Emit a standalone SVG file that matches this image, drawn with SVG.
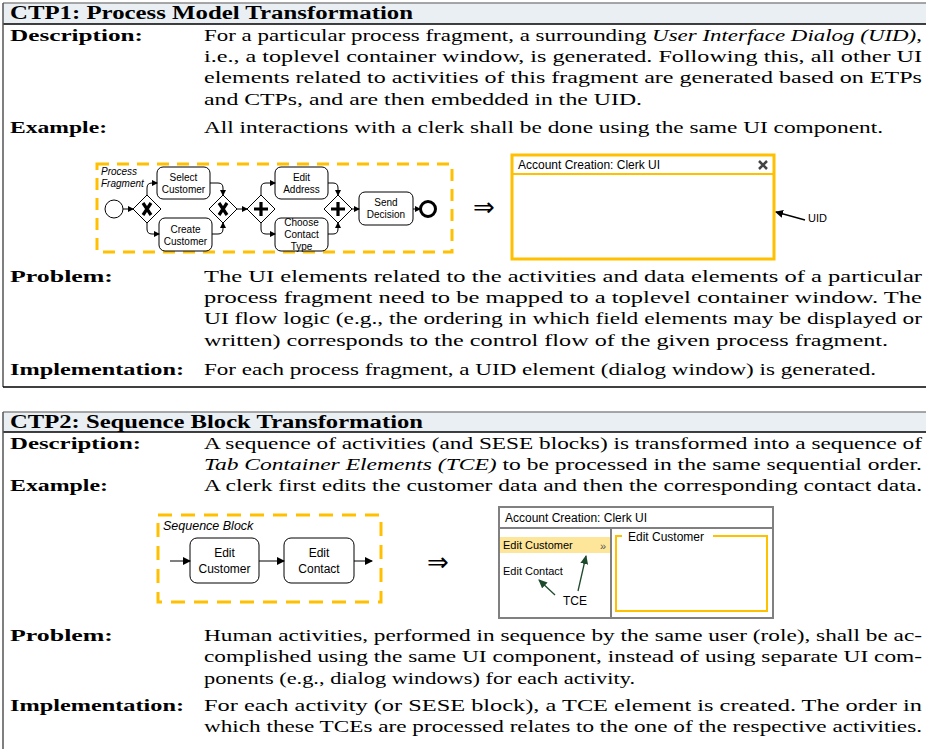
<svg xmlns="http://www.w3.org/2000/svg" width="926" height="749" viewBox="0 0 926 749">
<style>
.hd{font-family:'Liberation Serif',serif;font-weight:bold;font-size:18px;fill:#000}
.lb{font-family:'Liberation Serif',serif;font-weight:bold;font-size:17.5px;fill:#000}
.tx{font-family:'Liberation Serif',serif;font-size:17.5px;fill:#000}
.it{font-style:italic}
.sm{font-family:"Liberation Sans",Arial,sans-serif;font-size:10px;fill:#000;text-anchor:middle}
.ui{font-family:"Liberation Sans",Arial,sans-serif;font-size:12px;fill:#000}
.act{fill:#fff;stroke:#000;stroke-width:1}
.gw{fill:#fff;stroke:#000;stroke-width:1}
.mk{stroke:#000;stroke-width:3.2;fill:none}
.fl{stroke:#000;stroke-width:1;fill:none}
.dash{fill:none;stroke:#ffc000;stroke-width:3;stroke-dasharray:12 8}
.hbg{fill:#e9eff3}
.arr{font-family:"DejaVu Sans",sans-serif;font-size:26px;fill:#000}
</style>
<defs>
<marker id="ah" markerWidth="6" markerHeight="6" refX="5" refY="3" orient="auto" markerUnits="userSpaceOnUse">
<path d="M0,0 L6,3 L0,6 z" fill="#000"/>
</marker>
<marker id="ah2" markerWidth="8" markerHeight="8" refX="7" refY="4" orient="auto" markerUnits="userSpaceOnUse">
<path d="M0,0 L8,4 L0,8 z" fill="#000"/>
</marker>
<marker id="ahg" markerWidth="9" markerHeight="8" refX="8" refY="4" orient="auto" markerUnits="userSpaceOnUse">
<path d="M0,0 L9,4 L0,8 z" fill="#1e4a2c"/>
</marker>
</defs>

<!-- ================= TABLE 1 ================= -->
<g id="table1">
<rect class="hbg" x="3" y="3" width="923" height="21"/>
<line x1="3" y1="3" x2="926" y2="3" stroke="#8a8a8a" stroke-width="1.5"/>
<line x1="3" y1="24" x2="926" y2="24" stroke="#000" stroke-width="1.5"/>
<line x1="3" y1="3" x2="3" y2="387" stroke="#555" stroke-width="1.5"/>
<line x1="3" y1="387" x2="926" y2="387" stroke="#000" stroke-width="1.5"/>
<text class="hd" x="10" y="19" textLength="403" lengthAdjust="spacingAndGlyphs">CTP1: Process Model Transformation</text>
<text class="lb" x="10" y="41" textLength="133" lengthAdjust="spacingAndGlyphs">Description:</text>
<text class="tx" x="204" y="41" textLength="718" lengthAdjust="spacingAndGlyphs">For a particular process fragment, a surrounding <tspan class="it">User Interface Dialog (UID)</tspan>,</text>
<text class="tx" x="204" y="62" textLength="718" lengthAdjust="spacingAndGlyphs">i.e., a toplevel container window, is generated. Following this, all other UI</text>
<text class="tx" x="204" y="83" textLength="718" lengthAdjust="spacingAndGlyphs">elements related to activities of this fragment are generated based on ETPs</text>
<text class="tx" x="204" y="105" textLength="438" lengthAdjust="spacingAndGlyphs">and CTPs, and are then embedded in the UID.</text>
<text class="lb" x="10" y="133" textLength="97" lengthAdjust="spacingAndGlyphs">Example:</text>
<text class="tx" x="204" y="133" textLength="679" lengthAdjust="spacingAndGlyphs">All interactions with a clerk shall be done using the same UI component.</text>
<text class="lb" x="10" y="282" textLength="103" lengthAdjust="spacingAndGlyphs">Problem:</text>
<text class="tx" x="204" y="282" textLength="718" lengthAdjust="spacingAndGlyphs">The UI elements related to the activities and data elements of a particular</text>
<text class="tx" x="204" y="303" textLength="718" lengthAdjust="spacingAndGlyphs">process fragment need to be mapped to a toplevel container window. The</text>
<text class="tx" x="204" y="324" textLength="718" lengthAdjust="spacingAndGlyphs">UI flow logic (e.g., the ordering in which field elements may be displayed or</text>
<text class="tx" x="204" y="346" textLength="684" lengthAdjust="spacingAndGlyphs">written) corresponds to the control flow of the given process fragment.</text>
<text class="lb" x="10" y="375" textLength="174" lengthAdjust="spacingAndGlyphs">Implementation:</text>
<text class="tx" x="204" y="375" textLength="672" lengthAdjust="spacingAndGlyphs">For each process fragment, a UID element (dialog window) is generated.</text>
</g>

<!-- Process fragment diagram -->
<g id="fragment">
<rect class="dash" x="97" y="164" width="355" height="88"/>
<text class="sm" x="101" y="175" style="text-anchor:start;font-style:italic">Process</text>
<text class="sm" x="101" y="187" style="text-anchor:start;font-style:italic">Fragment</text>
</g>
<g id="start"><circle cx="114" cy="209" r="9" fill="#fff" stroke="#000" stroke-width="1"/></g>
<g id="xor1">
<path class="gw" d="M147,195 L161,209 L147,223 L133,209 Z"/>
<path class="mk" d="M143,203 L151,215 M151,203 L143,215"/>
</g>
<g id="selectCustomer">
<rect class="act" x="157" y="167" width="53" height="32" rx="6"/>
<text class="sm" x="183.5" y="181">Select</text>
<text class="sm" x="183.5" y="193">Customer</text>
</g>
<g id="createCustomer">
<rect class="act" x="159" y="218" width="53" height="33" rx="6"/>
<text class="sm" x="185.5" y="233">Create</text>
<text class="sm" x="185.5" y="245">Customer</text>
</g>
<g id="xor2">
<path class="gw" d="M223,195 L237,209 L223,223 L209,209 Z"/>
<path class="mk" d="M219,203 L227,215 M227,203 L219,215"/>
</g>
<g id="and1">
<path class="gw" d="M261,195 L275,209 L261,223 L247,209 Z"/>
<path class="mk" d="M261,202 L261,216 M254,209 L268,209"/>
</g>
<g id="editAddress">
<rect class="act" x="275" y="167" width="53" height="32" rx="6"/>
<text class="sm" x="301.5" y="181">Edit</text>
<text class="sm" x="301.5" y="193">Address</text>
</g>
<g id="chooseContactType">
<rect class="act" x="275" y="218" width="53" height="33" rx="6"/>
<text class="sm" x="301.5" y="226">Choose</text>
<text class="sm" x="301.5" y="238">Contact</text>
<text class="sm" x="301.5" y="250">Type</text>
</g>
<g id="and2">
<path class="gw" d="M338,195 L352,209 L338,223 L324,209 Z"/>
<path class="mk" d="M338,202 L338,216 M331,209 L345,209"/>
</g>
<g id="sendDecision">
<rect class="act" x="359" y="192" width="54" height="33" rx="6"/>
<text class="sm" x="386" y="206">Send</text>
<text class="sm" x="386" y="218">Decision</text>
</g>
<g id="end"><circle cx="428" cy="209" r="7.5" fill="#fff" stroke="#000" stroke-width="3"/></g>

<g id="connectors1">
<path class="fl" d="M123,209 L133,209" marker-end="url(#ah)"/>
<path class="fl" d="M147,195 L147,188 Q147,183 152,183 L157,183" marker-end="url(#ah)"/>
<path class="fl" d="M147,223 L147,229 Q147,234 152,234 L159,234" marker-end="url(#ah)"/>
<path class="fl" d="M210,183 L218,183 Q223,183 223,188 L223,195" marker-end="url(#ah)"/>
<path class="fl" d="M212,234 L218,234 Q223,234 223,229 L223,223" marker-end="url(#ah)"/>
<path class="fl" d="M237,209 L247,209" marker-end="url(#ah)"/>
<path class="fl" d="M261,195 L261,188 Q261,183 266,183 L275,183" marker-end="url(#ah)"/>
<path class="fl" d="M261,223 L261,229 Q261,234 266,234 L275,234" marker-end="url(#ah)"/>
<path class="fl" d="M328,183 L333,183 Q338,183 338,188 L338,195" marker-end="url(#ah)"/>
<path class="fl" d="M328,234 L333,234 Q338,234 338,229 L338,223" marker-end="url(#ah)"/>
<path class="fl" d="M352,209 L359,209" marker-end="url(#ah)"/>
<path class="fl" d="M413,209 L420,209" marker-end="url(#ah)"/>
</g>

<text class="arr" x="473" y="216">⇒</text>

<g id="uid">
<rect x="512" y="155" width="262" height="104" fill="#fff" stroke="#ffc000" stroke-width="3"/>
<line x1="512" y1="174" x2="774" y2="174" stroke="#ffc000" stroke-width="2"/>
<text class="ui" x="518" y="169">Account Creation: Clerk UI</text>
<path d="M759,161 L767,169 M767,161 L759,169" stroke="#444" stroke-width="2.5"/>
</g>
<g id="uidLabel">
<path d="M805,220 L776,212" stroke="#000" stroke-width="1.3" fill="none" marker-end="url(#ah2)"/>
<text class="ui" x="808" y="222" style="font-size:11px">UID</text>
</g>

<!-- ================= TABLE 2 ================= -->
<g id="table2">
<rect class="hbg" x="3" y="412" width="923" height="20"/>
<line x1="3" y1="412" x2="926" y2="412" stroke="#8a8a8a" stroke-width="1.5"/>
<line x1="3" y1="432" x2="926" y2="432" stroke="#000" stroke-width="1.5"/>
<line x1="3" y1="412" x2="3" y2="749" stroke="#555" stroke-width="1.5"/>
<text class="hd" x="10" y="428" textLength="413" lengthAdjust="spacingAndGlyphs">CTP2: Sequence Block Transformation</text>
<text class="lb" x="10" y="449" textLength="131" lengthAdjust="spacingAndGlyphs">Description:</text>
<text class="tx" x="204" y="449" textLength="718" lengthAdjust="spacingAndGlyphs">A sequence of activities (and SESE blocks) is transformed into a sequence of</text>
<text class="tx" x="204" y="470" textLength="718" lengthAdjust="spacingAndGlyphs"><tspan class="it">Tab Container Elements (TCE)</tspan> to be processed in the same sequential order.</text>
<text class="lb" x="10" y="491" textLength="98" lengthAdjust="spacingAndGlyphs">Example:</text>
<text class="tx" x="204" y="491" textLength="718" lengthAdjust="spacingAndGlyphs">A clerk first edits the customer data and then the corresponding contact data.</text>
<text class="lb" x="10" y="641" textLength="103" lengthAdjust="spacingAndGlyphs">Problem:</text>
<text class="tx" x="204" y="641" textLength="718" lengthAdjust="spacingAndGlyphs">Human activities, performed in sequence by the same user (role), shall be ac-</text>
<text class="tx" x="204" y="662" textLength="718" lengthAdjust="spacingAndGlyphs">complished using the same UI component, instead of using separate UI com-</text>
<text class="tx" x="204" y="684" textLength="431" lengthAdjust="spacingAndGlyphs">ponents (e.g., dialog windows) for each activity.</text>
<text class="lb" x="10" y="711" textLength="174" lengthAdjust="spacingAndGlyphs">Implementation:</text>
<text class="tx" x="204" y="711" textLength="718" lengthAdjust="spacingAndGlyphs">For each activity (or SESE block), a TCE element is created. The order in</text>
<text class="tx" x="204" y="732" textLength="718" lengthAdjust="spacingAndGlyphs">which these TCEs are processed relates to the one of the respective activities.</text>
</g>

<g id="sequenceBlock">
<rect class="dash" x="158" y="515" width="223" height="87" style="stroke-dasharray:14 9"/>
<text class="ui" x="163" y="530" style="font-style:italic;font-size:12.5px">Sequence Block</text>
</g>
<g id="editCustomer">
<rect class="act" x="190" y="538" width="69" height="45" rx="7"/>
<text class="ui" x="224.5" y="557" text-anchor="middle">Edit</text>
<text class="ui" x="224.5" y="573" text-anchor="middle">Customer</text>
</g>
<g id="editContact">
<rect class="act" x="284" y="538" width="70" height="45" rx="7"/>
<text class="ui" x="319" y="557" text-anchor="middle">Edit</text>
<text class="ui" x="319" y="573" text-anchor="middle">Contact</text>
</g>
<g id="connectors2">
<path class="fl" d="M170,561 L190,561" marker-end="url(#ah2)"/>
<path class="fl" d="M259,561 L284,561" marker-end="url(#ah2)"/>
<path class="fl" d="M354,561 L372,561" marker-end="url(#ah2)"/>
</g>

<text class="arr" x="427" y="571">⇒</text>

<g id="tabWindow">
<rect x="499" y="507" width="274" height="111" fill="#fff" stroke="#808080" stroke-width="2"/>
<line x1="499" y1="528" x2="773" y2="528" stroke="#808080" stroke-width="2"/>
<line x1="611" y1="528" x2="611" y2="618" stroke="#808080" stroke-width="2"/>
<text class="ui" x="505" y="522">Account Creation: Clerk UI</text>
<rect x="500" y="537" width="110" height="16" fill="#fde59a"/>
<text class="ui" x="503" y="549" style="font-size:11px">Edit Customer</text>
<text class="ui" x="600" y="550" style="font-size:11px;fill:#555">»</text>
<text class="ui" x="503" y="575" style="font-size:11px">Edit Contact</text>
<path d="M622,536 L616,536 L616,611 L767,611 L767,536 L713,536" fill="none" stroke="#ffc000" stroke-width="2"/>
<text class="ui" x="628" y="541">Edit Customer</text>
</g>
<g id="tceLabel">
<text class="ui" x="563" y="605">TCE</text>
<path d="M555,595 L539,580" stroke="#1e4a2c" stroke-width="1.3" fill="none" marker-end="url(#ahg)"/>
<path d="M578,591 L586,556" stroke="#1e4a2c" stroke-width="1.3" fill="none" marker-end="url(#ahg)"/>
</g>
</svg>
